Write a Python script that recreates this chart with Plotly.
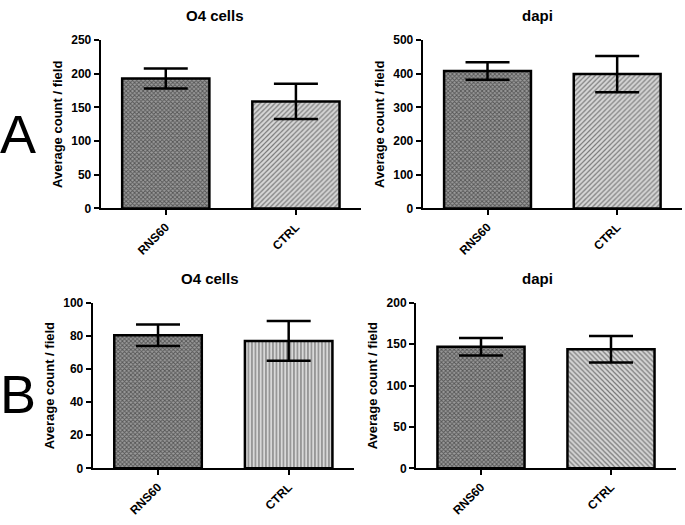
import plotly.graph_objects as go

categories = ["RNS60", "CTRL"]

# panel A
o4_a = [193, 159]
o4_a_err = [15, 26]
dapi_a = [408, 399]
dapi_a_err = [26, 54]

# panel B
o4_b = [80.5, 77]
o4_b_err = [6.5, 12]
dapi_b = [147, 144]
dapi_b_err = [10.5, 16]

W, H = 685, 525
FONT = "Arial, Liberation Sans, sans-serif"

def px(x):
    return x / W

def py(y):
    return 1 - y / H

panels = [
    # values, errors, ctrl pattern, y max, dtick, x domain px, y domain px, title, title x
    (o4_a, o4_a_err, "/", 250, 50, (100.7, 361), (34, 207), "O4 cells", 215),
    (dapi_a, dapi_a_err, "/", 500, 100, (422.7, 682), (34, 207), "dapi", 537),
    (o4_b, o4_b_err, "|", 100, 20, (92.7, 354), (304, 474), "O4 cells", 210),
    (dapi_b, dapi_b_err, "\\", 200, 50, (416, 676), (304, 474), "dapi", 537),
]

fig = go.Figure()
annotations = []
for i, (vals, errs, ctrl_shape, ymax, dt, xd, yd, title, tx) in enumerate(panels):
    n = "" if i == 0 else str(i + 1)
    fig.add_trace(go.Bar(
        x=categories, y=vals,
        width=0.67,
        xaxis="x" + n, yaxis="y" + n,
        marker=dict(
            color="white",
            line=dict(color="black", width=2.5),
            pattern=dict(
                shape=["x", ctrl_shape],
                size=[3, 3.5],
                solidity=[0.5, 0.35],
                fgcolor=["#111111", "#1a1a1a"],
                bgcolor=["#9a9a9a", "#d8d8d8"],
            ),
        ),
        error_y=dict(type="data", array=errs, visible=True,
                     color="black", thickness=2.5, width=22),
        showlegend=False,
    ))
    fig.update_layout(**{
        "xaxis" + n: dict(
            domain=[px(xd[0]), px(xd[1])], anchor="y" + n,
            range=[-0.5, 1.5], showline=True, linecolor="black", linewidth=2,
            ticks="outside", ticklen=5, tickwidth=2, tickcolor="black",
            tickangle=-45, showgrid=False, zeroline=False,
            tickfont=dict(family=FONT, size=12, color="black", weight="bold"),
        ),
        "yaxis" + n: dict(
            domain=[py(yd[1]), py(yd[0])], anchor="x" + n,
            range=[0, ymax], dtick=dt, showline=True, linecolor="black", linewidth=2,
            ticks="outside", ticklen=5, tickwidth=2, tickcolor="black",
            showgrid=False, zeroline=False,
            tickfont=dict(family=FONT, size=12, color="black", weight="bold"),
            title=dict(text="Average count / field", standoff=6,
                       font=dict(family=FONT, size=13, color="black", weight="bold")),
        ),
    })
    annotations.append(dict(
        text=title, x=px(tx), y=py(yd[0] - 25), xref="paper", yref="paper",
        xanchor="center", yanchor="middle", showarrow=False,
        font=dict(family=FONT, size=15, color="black", weight="bold"),
    ))

annotations.append(dict(text="A", x=px(18), y=py(130), xref="paper", yref="paper",
                        xanchor="center", yanchor="middle", showarrow=False,
                        font=dict(family=FONT, size=54, color="black")))
annotations.append(dict(text="B", x=px(18), y=py(398), xref="paper", yref="paper",
                        xanchor="center", yanchor="middle", showarrow=False,
                        font=dict(family=FONT, size=54, color="black")))

fig.update_layout(
    width=W, height=H,
    margin=dict(l=0, r=0, t=0, b=0),
    paper_bgcolor="white", plot_bgcolor="white",
    annotations=annotations,
)

# drop the default page margin so the figure sits at the window's top-left corner
fig.write_html("out.html", config={"displayModeBar": False},
               post_script="document.body.style.margin='0';")
